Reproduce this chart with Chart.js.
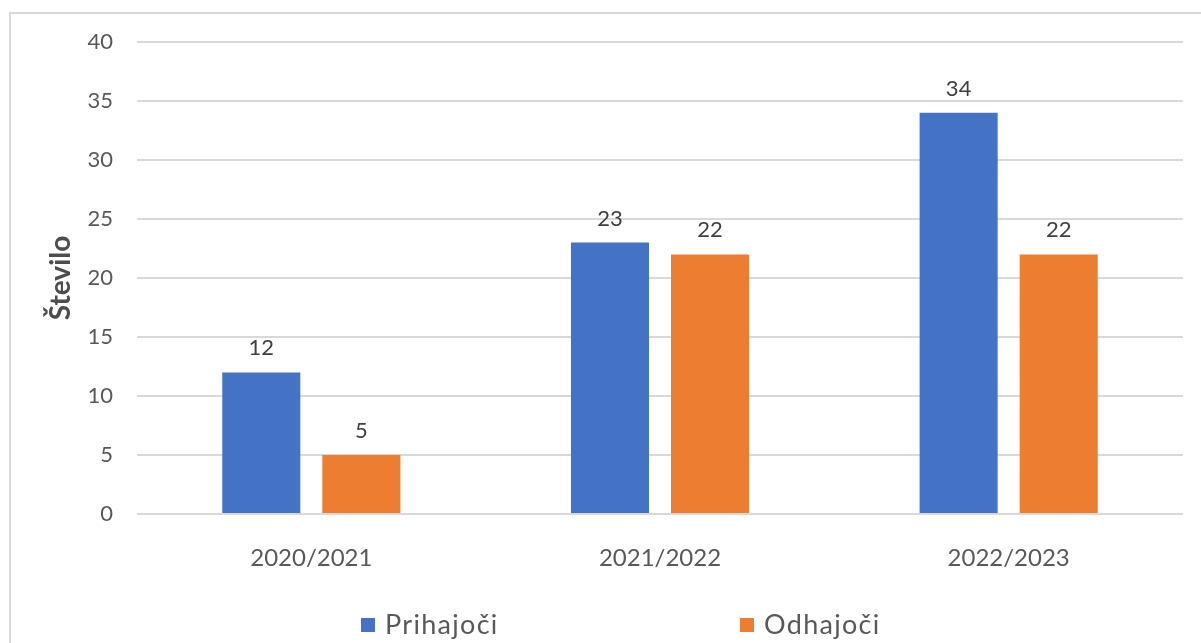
<!DOCTYPE html>
<html>
<head>
<meta charset="utf-8">
<script src="https://cdn.jsdelivr.net/npm/chart.js@4/dist/chart.umd.min.js"></script>
<style>
  html, body { margin: 0; padding: 0; background: #ffffff; overflow: hidden; }
  #frame { position: absolute; left: 9px; top: 12px; width: 1300px; height: 800px; border: 2px solid #d9d9d9; box-sizing: border-box; }
  #wrap { position: absolute; left: 0; top: 0; width: 1201px; height: 643px; }
</style>
</head>
<body>
<div id="frame"></div>
<div id="wrap"><canvas id="c" width="1201" height="643"></canvas></div>
<script>
const categories = ['2020/2021', '2021/2022', '2022/2023'];
const prihajoci = [12, 23, 34];
const odhajoci = [5, 22, 22];
const seriesNames = ['Prihajoči', 'Odhajoči'];
const yTicks = [0, 5, 10, 15, 20, 25, 30, 35, 40];
const yTitle = 'Število';

const FONT = "Lato, 'Open Sans', sans-serif";
const TXT = '#595959';

const dataLabels = {
  id: 'dataLabels',
  afterDatasetsDraw(chart) {
    const ctx = chart.ctx;
    ctx.save();
    ctx.font = '22px ' + FONT;
    ctx.fillStyle = '#404040';
    ctx.textAlign = 'center';
    ctx.textBaseline = 'alphabetic';
    chart.data.datasets.forEach((ds, i) => {
      const meta = chart.getDatasetMeta(i);
      meta.data.forEach((bar, j) => {
        ctx.fillText(String(ds.data[j]), bar.x, bar.y - 17);
      });
    });
    ctx.restore();
  }
};

const customLegend = {
  id: 'customLegend',
  afterDraw(chart) {
    const ctx = chart.ctx;
    ctx.save();
    ctx.font = '27px ' + FONT;
    if ('letterSpacing' in ctx) ctx.letterSpacing = '1.3px';
    ctx.textBaseline = 'middle';
    ctx.textAlign = 'left';
    const startX = 361, slot = 379, cy = 625, box = 14;
    chart.data.datasets.forEach((ds, i) => {
      const x = startX + i * slot;
      ctx.fillStyle = ds.backgroundColor;
      ctx.fillRect(x, cy - box / 2, box, box);
      ctx.fillStyle = TXT;
      ctx.fillText(ds.label, x + box + 10, cy);
    });
    ctx.restore();
  }
};

new Chart(document.getElementById('c'), {
  type: 'bar',
  data: {
    labels: categories,
    datasets: [
      { label: seriesNames[0], data: prihajoci, backgroundColor: '#4472C4', borderWidth: 0 },
      { label: seriesNames[1], data: odhajoci, backgroundColor: '#ED7D31', borderWidth: 0 }
    ]
  },
  options: {
    responsive: false,
    animation: false,
    devicePixelRatio: 1,
    layout: { padding: { left: 0, right: 18, top: 42, bottom: 0 } },
    categoryPercentage: 0.574,
    barPercentage: 0.78,
    plugins: {
      legend: { display: false },
      tooltip: { enabled: false }
    },
    scales: {
      x: {
        grid: { display: false },
        border: { display: false },
        ticks: { color: TXT, font: { family: FONT, size: 24 }, padding: 22, maxRotation: 0 },
        afterFit(scale) { scale.height = 129; }
      },
      y: {
        min: 0, max: 40,
        afterBuildTicks(scale) { scale.ticks = yTicks.map(v => ({ value: v })); },
        grid: { color: '#d9d9d9', lineWidth: 2, drawTicks: false },
        border: { display: false },
        ticks: { color: TXT, font: { family: FONT, size: 22 }, padding: 24 },
        title: { display: true, text: yTitle, color: '#4d4d4d', font: { family: FONT, size: 28, weight: 'bold' }, padding: { top: 44, bottom: 0 } },
        afterFit(scale) { scale.width = 137; }
      }
    }
  },
  plugins: [dataLabels, customLegend]
});
</script>
</body>
</html>
